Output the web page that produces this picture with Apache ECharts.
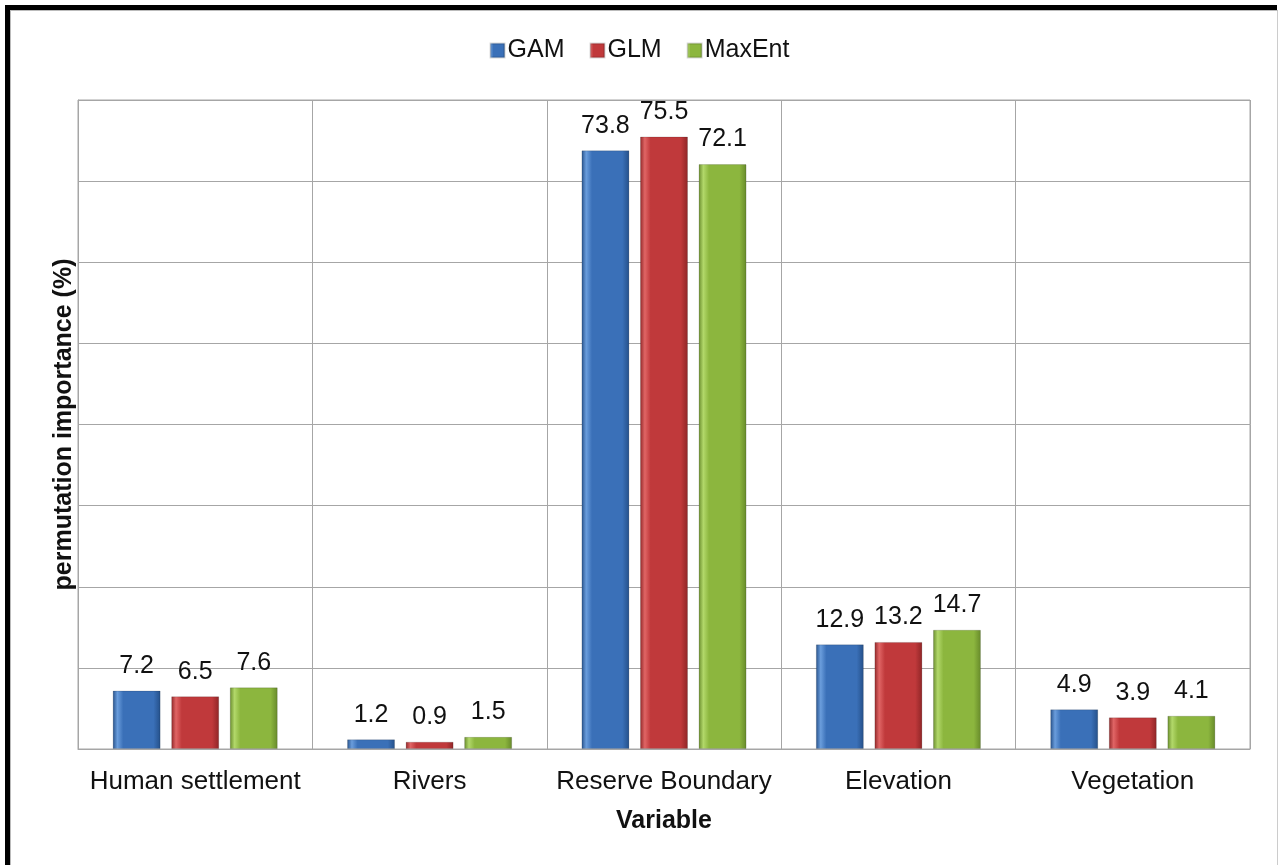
<!DOCTYPE html>
<html lang="en">
<head>
    <meta charset="UTF-8">
    <title>permutation importance</title>
    <script src="https://cdn.jsdelivr.net/npm/echarts@6/dist/echarts.min.js"></script>
    <style>
        html, body { margin: 0; padding: 0; background: #fff; }
        #frame {
            position: absolute; left: 5px; top: 5px; width: 1272px; height: 860px;
            border-top: 5px solid #000; border-left: 5px solid #000;
            box-sizing: border-box;
        }
        #inner {
            position: absolute; left: 10px; top: 10px; width: 1268px; height: 855px;
            border-top: 1px solid #bbb; border-left: 1px solid #bbb; border-right: 1px solid #ccc;
            box-sizing: border-box;
        }
        #main { position: absolute; left: 0; top: 0; width: 1279px; height: 865px; }
    </style>
</head>
<body>
<div id="frame"></div>
<div id="inner"></div>
<div id="main"></div>

<script type="text/javascript">
    // data
    var categories = ['Human settlement', 'Rivers', 'Reserve Boundary', 'Elevation', 'Vegetation'];
    var gam    = [7.2, 1.2, 73.8, 12.9, 4.9];
    var glm    = [6.5, 0.9, 75.5, 13.2, 3.9];
    var maxent = [7.6, 1.5, 72.1, 14.7, 4.1];

    var font = 'Arial, "Liberation Sans", sans-serif';

    // bevel-ish fill like the Excel bars: light left edge, darker right edge
    function shade(light, mid, dark) {
        return new echarts.graphic.LinearGradient(0, 0, 1, 0, [
            { offset: 0, color: dark },
            { offset: 0.1, color: light },
            { offset: 0.22, color: mid },
            { offset: 0.85, color: mid },
            { offset: 1, color: dark }
        ]);
    }

    function makeSeries(name, data, fill) {
        return {
            name: name,
            type: 'bar',
            data: data,
            barWidth: 48,
            barGap: '22%',
            itemStyle: { color: fill, borderColor: 'rgba(0,0,0,0.15)', borderWidth: 1 },
            label: {
                show: true,
                position: 'top',
                distance: 12,
                color: '#111',
                fontSize: 25,
                fontFamily: font
            },
            emphasis: { disabled: true }
        };
    }

    var myChart = echarts.init(document.getElementById('main'));
    var option = {
        animation: false,
        color: ['#3a70b8', '#c0393b', '#8cb63e'],
        legend: {
            top: 33,
            left: 'center',
            itemWidth: 14,
            itemHeight: 14,
            itemGap: 25,
            icon: 'rect',
            textStyle: { fontSize: 25, color: '#111', fontFamily: font, padding: [0, 0, 0, -2] },
            data: ['GAM', 'GLM', 'MaxEnt']
        },
        grid: {
            left: 78,
            right: 29,
            top: 100,
            bottom: 116,
            show: true,
            borderColor: '#a6a6a6',
            borderWidth: 1
        },
        xAxis: {
            type: 'category',
            data: categories,
            name: 'Variable',
            nameLocation: 'middle',
            nameGap: 60,
            nameTextStyle: { fontSize: 25, fontWeight: 'bold', color: '#111', fontFamily: font },
            axisLine: { lineStyle: { color: '#a6a6a6' } },
            axisTick: { show: false },
            axisLabel: { interval: 0, fontSize: 26, color: '#111', fontFamily: font, margin: 20 },
            splitLine: { show: true, interval: 0, lineStyle: { color: '#a6a6a6', width: 1 } }
        },
        yAxis: {
            type: 'value',
            min: 0,
            max: 80,
            interval: 10,
            name: 'permutation importance (%)',
            nameLocation: 'middle',
            nameGap: 1,
            nameTextStyle: { fontSize: 25, fontWeight: 'bold', color: '#111', fontFamily: font },
            axisLine: { show: true, lineStyle: { color: '#a6a6a6' } },
            axisTick: { show: false },
            axisLabel: { show: false },
            splitLine: { show: true, lineStyle: { color: '#a6a6a6', width: 1 } }
        },
        series: [
            makeSeries('GAM', gam, shade('#6a9ddc', '#3a70b8', '#244f88')),
            makeSeries('GLM', glm, shade('#e06565', '#c0393b', '#8e2526')),
            makeSeries('MaxEnt', maxent, shade('#b2d86a', '#8cb63e', '#66892a'))
        ]
    };
    myChart.setOption(option);
</script>
</body>
</html>
